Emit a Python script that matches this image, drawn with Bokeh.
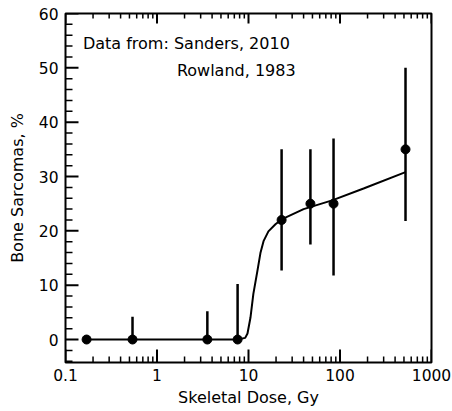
import math
from bokeh.plotting import figure
from bokeh.models import Range1d, FixedTicker, Label, CustomJSTickFormatter
from bokeh.embed import file_html
from bokeh.resources import INLINE

# Data points (skeletal dose in Gy, bone sarcoma %)
dose = [0.17, 0.54, 3.55, 7.6, 23, 47.5, 85, 520]
sarcoma = [0, 0, 0, 0, 22, 25, 25, 35]
err_low = [0, 0, 0, 0, 12.7, 17.5, 11.8, 21.8]
err_high = [0, 4.2, 5.2, 10.2, 35, 35, 37, 50]

# Fitted curve
curve_dose = [0.17, 7.6, 9.2, 9.75, 10.5, 11.3, 12.5, 13.5, 14.6, 16.5, 19.7, 23, 40, 82, 181, 520]
curve_pct = [0, 0, 0.3, 1.1, 4.0, 8.4, 12.6, 15.9, 18.1, 19.9, 21.2, 22.1, 24.0, 25.6, 27.8, 30.8]

x_major = [0.1, 1, 10, 100, 1000]
y_major = [0, 10, 20, 30, 40, 50, 60]
x_minor = [m * d for d in [0.1, 1, 10, 100] for m in range(2, 10)]
y_minor = [v for v in range(-4, 61, 2) if v % 10 != 0]

X0, X1 = 0.1, 1000
Y0, Y1 = -4.23, 60

W, H = 452, 411
BL, BR, BT, BB = 65, 21, 13, 49
FRAME_W = W - BL - BR
FRAME_H = H - BT - BB
DEC_PER_PX = math.log10(X1 / X0) / FRAME_W
Y_PER_PX = (Y1 - Y0) / FRAME_H

FONT = "DejaVu Sans"

p = figure(width=W, height=H, x_axis_type="log",
           x_range=Range1d(X0, X1), y_range=Range1d(Y0, Y1),
           output_backend="svg", toolbar_location=None,
           min_border_left=BL, min_border_right=BR, min_border_top=BT, min_border_bottom=BB)

p.grid.visible = False
p.background_fill_color = "white"
p.border_fill_color = "white"
p.outline_line_color = "black"
p.outline_line_width = 2

xa = p.xaxis[0]
xa.ticker = FixedTicker(ticks=x_major)
xa.formatter = CustomJSTickFormatter(code="return tick.toString();")
xa.axis_label = "Skeletal Dose, Gy"

ya = p.yaxis[0]
ya.ticker = FixedTicker(ticks=y_major)
ya.axis_label = "Bone Sarcomas, %"

for ax in (xa, ya):
    ax.axis_line_color = None
    ax.major_tick_in = 0
    ax.major_tick_out = 0
    ax.minor_tick_in = 0
    ax.minor_tick_out = 0
    ax.major_label_text_font = FONT
    ax.major_label_text_font_size = "15.5px"
    ax.major_label_text_color = "black"
    ax.axis_label_text_font = FONT
    ax.axis_label_text_font_size = "16px"
    ax.axis_label_text_font_style = "normal"
    ax.axis_label_text_color = "black"

xa.major_label_standoff = 6
xa.axis_label_standoff = 4
ya.major_label_standoff = 7
ya.axis_label_standoff = 9


def xin(px):
    return X0 * 10 ** (px * DEC_PER_PX)


# Inward tick marks on left, bottom and top edges of the frame
p.segment(x0=[X0] * len(y_major), y0=y_major, x1=[xin(13)] * len(y_major), y1=y_major,
          line_color="black", line_width=2)
p.segment(x0=[X0] * len(y_minor), y0=y_minor, x1=[xin(7)] * len(y_minor), y1=y_minor,
          line_color="black", line_width=1.5)
p.segment(x0=x_major, y0=[Y0] * len(x_major), x1=x_major, y1=[Y0 + 13 * Y_PER_PX] * len(x_major),
          line_color="black", line_width=2)
p.segment(x0=x_minor, y0=[Y0] * len(x_minor), x1=x_minor, y1=[Y0 + 6 * Y_PER_PX] * len(x_minor),
          line_color="black", line_width=1.5)
p.segment(x0=x_major, y0=[Y1] * len(x_major), x1=x_major, y1=[Y1 - 10 * Y_PER_PX] * len(x_major),
          line_color="black", line_width=2)
p.segment(x0=x_minor, y0=[Y1] * len(x_minor), x1=x_minor, y1=[Y1 - 5 * Y_PER_PX] * len(x_minor),
          line_color="black", line_width=1.5)

# Curve
p.line(curve_dose, curve_pct, line_color="black", line_width=2)

# Error bars
p.segment(x0=dose, y0=err_low, x1=dose, y1=err_high, line_color="black", line_width=2.5)

# Points
p.scatter(dose, sarcoma, size=9, fill_color="black", line_color="black")

p.add_layout(Label(x=0.155, y=54.5, text="Data from: Sanders, 2010",
                   text_font=FONT, text_font_size="16px", text_color="black",
                   text_baseline="middle", text_align="left"))
p.add_layout(Label(x=1.65, y=49.6, text="Rowland, 1983",
                   text_font=FONT, text_font_size="16px", text_color="black",
                   text_baseline="middle", text_align="left"))

open("out.html", "w").write(file_html(p, INLINE))
